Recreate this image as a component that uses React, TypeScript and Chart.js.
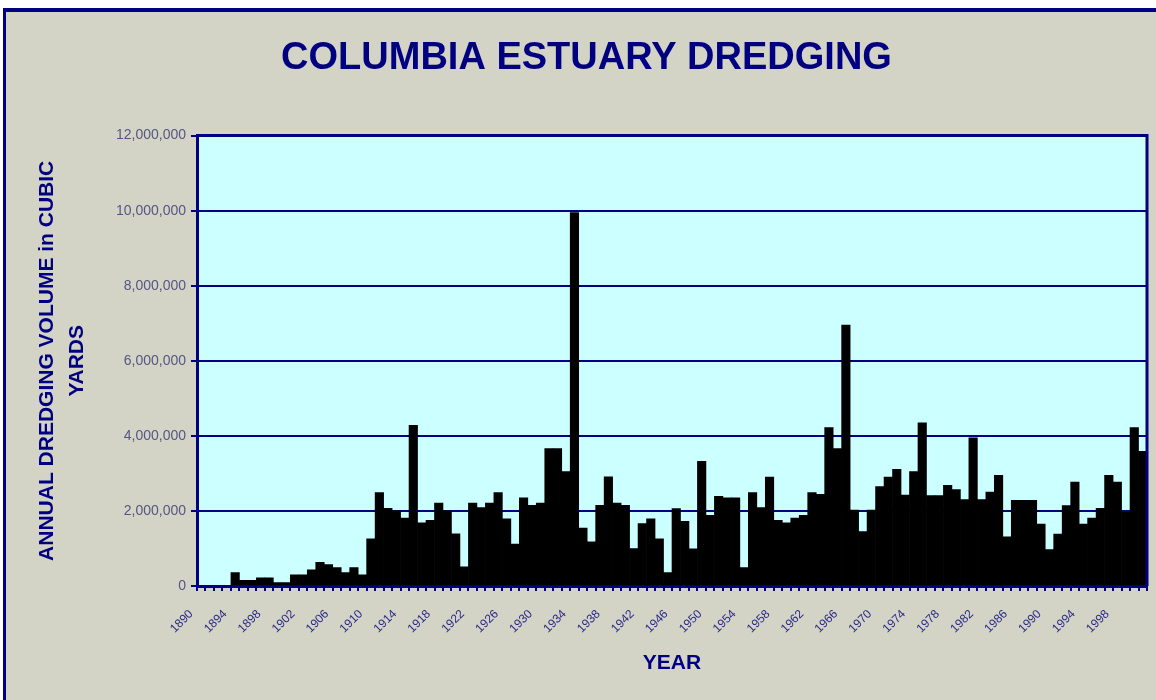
import React, { useEffect, useRef } from "react";
import { Chart, registerables } from "chart.js";

Chart.register(...registerables);

const chartTitle = "COLUMBIA ESTUARY DREDGING";
const yAxisTitle = ["ANNUAL DREDGING VOLUME in CUBIC", "YARDS"];
const xAxisTitle = "YEAR";

const years = [
  "1890", "1891", "1892", "1893", "1894", "1895", "1896", "1897", "1898", "1899",
  "1900", "1901", "1902", "1903", "1904", "1905", "1906", "1907", "1908", "1909",
  "1910", "1911", "1912", "1913", "1914", "1915", "1916", "1917", "1918", "1919",
  "1920", "1921", "1922", "1923", "1924", "1925", "1926", "1927", "1928", "1929",
  "1930", "1931", "1932", "1933", "1934", "1935", "1936", "1937", "1938", "1939",
  "1940", "1941", "1942", "1943", "1944", "1945", "1946", "1947", "1948", "1949",
  "1950", "1951", "1952", "1953", "1954", "1955", "1956", "1957", "1958", "1959",
  "1960", "1961", "1962", "1963", "1964", "1965", "1966", "1967", "1968", "1969",
  "1970", "1971", "1972", "1973", "1974", "1975", "1976", "1977", "1978", "1979",
  "1980", "1981", "1982", "1983", "1984", "1985", "1986", "1987", "1988", "1989",
  "1990", "1991", "1992", "1993", "1994", "1995", "1996", "1997", "1998", "1999",
  "2000", "2001",
];

// Annual dredging volume, cubic yards
const volumes = [
  0, 0, 0, 0, 360000, 150000, 150000, 220000, 220000, 90000,
  90000, 300000, 300000, 430000, 630000, 570000, 490000, 360000, 490000, 300000,
  1260000, 2490000, 2070000, 2000000, 1810000, 4280000, 1680000, 1750000, 2210000, 2000000,
  1390000, 510000, 2210000, 2090000, 2210000, 2490000, 1790000, 1120000, 2350000, 2150000,
  2210000, 3660000, 3660000, 3050000, 9950000, 1540000, 1180000, 2150000, 2910000, 2210000,
  2150000, 1000000, 1660000, 1790000, 1260000, 360000, 2060000, 1720000, 990000, 3320000,
  1880000, 2390000, 2350000, 2350000, 490000, 2490000, 2090000, 2900000, 1750000, 1680000,
  1810000, 1880000, 2490000, 2440000, 4220000, 3660000, 6950000, 2020000, 1450000, 2020000,
  2650000, 2900000, 3110000, 2420000, 3050000, 4350000, 2410000, 2410000, 2680000, 2570000,
  2300000, 3950000, 2300000, 2500000, 2950000, 1310000, 2280000, 2280000, 2280000, 1650000,
  970000, 1380000, 2140000, 2770000, 1650000, 1810000, 2070000, 2950000, 2770000, 1960000,
  4220000, 3590000,
];

const yMax = 12000000;
const yStep = 2000000;
const labelEvery = 4;

const NAVY = "#000080";
const FONT = "'Liberation Sans', Arial, sans-serif";

const plotBackground = {
  id: "plotBackground",
  beforeDraw(chart: any) {
    const { ctx, chartArea } = chart;
    ctx.save();
    ctx.fillStyle = "#CCFFFF";
    ctx.fillRect(chartArea.left, chartArea.top, chartArea.right - chartArea.left, chartArea.bottom - chartArea.top);
    ctx.restore();
  },
  afterDraw(chart: any) {
    const { ctx, chartArea } = chart;
    ctx.save();
    ctx.strokeStyle = NAVY;
    ctx.lineWidth = 3;
    ctx.beginPath();
    ctx.moveTo(chartArea.left, chartArea.top);
    ctx.lineTo(chartArea.right, chartArea.top);
    ctx.lineTo(chartArea.right, chartArea.bottom);
    ctx.stroke();
    ctx.restore();
  },
};

export default function App() {
  const canvasRef = useRef<HTMLCanvasElement | null>(null);

  useEffect(() => {
    const canvas = canvasRef.current;
    if (!canvas) return;
    const chart = new Chart(canvas, {
      type: "bar",
      data: {
        labels: years,
        datasets: [
          {
            data: volumes,
            backgroundColor: "#000000",
            borderWidth: 0,
            barPercentage: 1,
            categoryPercentage: 1,
          },
        ],
      },
      plugins: [plotBackground],
      options: {
        animation: false,
        responsive: false,
        maintainAspectRatio: false,
        layout: { padding: { left: 26, right: 9, top: 0, bottom: 0 } },
        plugins: {
          legend: { display: false },
          tooltip: { enabled: false },
          title: {
            display: true,
            text: chartTitle,
            color: NAVY,
            font: { family: FONT, size: 38, weight: "bold", lineHeight: 1.2 },
            padding: { top: 36, bottom: 54 },
          },
        },
        scales: {
          x: {
            afterFit(scale: any) {
              scale.height = 114;
              scale.paddingLeft = 0;
              scale.paddingRight = 0;
            },
            grid: {
              drawOnChartArea: false,
              color: NAVY,
              lineWidth: 2,
              tickLength: 5,
            },
            border: { display: true, color: NAVY, width: 3 },
            ticks: {
              autoSkip: false,
              minRotation: 45,
              maxRotation: 45,
              padding: 16,
              labelOffset: -10,
              color: "#2a2a8a",
              font: { family: FONT, size: 12 },
              callback(value: any, index: number) {
                return index % labelEvery === 0 ? years[index] : "";
              },
            },
            title: {
              display: true,
              text: xAxisTitle,
              color: NAVY,
              font: { family: FONT, size: 21, weight: "bold", lineHeight: 1.2 },
              padding: { top: 4, bottom: 24 },
            },
          },
          y: {
            min: 0,
            max: yMax,
            afterFit(scale: any) {
              scale.width = 171;
            },
            grid: {
              color: NAVY,
              lineWidth: 2,
              tickLength: 6,
            },
            border: { display: true, color: NAVY, width: 3 },
            ticks: {
              stepSize: yStep,
              padding: 5,
              color: "#555585",
              font: { family: FONT, size: 14 },
              callback(value: any) {
                return Number(value).toLocaleString("en-US");
              },
            },
            title: {
              display: true,
              text: yAxisTitle,
              color: NAVY,
              font: { family: FONT, size: 21, weight: "bold", lineHeight: 1.43 },
              padding: { top: 6, bottom: 0 },
            },
          },
        },
      },
    });
    return () => chart.destroy();
  }, []);

  return (
    <div style={{ position: "fixed", left: 0, top: 0, width: 1156, height: 700, background: "#FFFFFF", overflow: "hidden" }}>
      <div
        style={{
          position: "absolute",
          left: 3,
          top: 8,
          width: 1160,
          height: 700,
          background: "#D4D4C6",
          borderTop: `4px solid ${NAVY}`,
          borderLeft: `3px solid ${NAVY}`,
        }}
      />
      <canvas ref={canvasRef} width={1156} height={700} style={{ position: "absolute", left: 0, top: 0 }} />
    </div>
  );
}
